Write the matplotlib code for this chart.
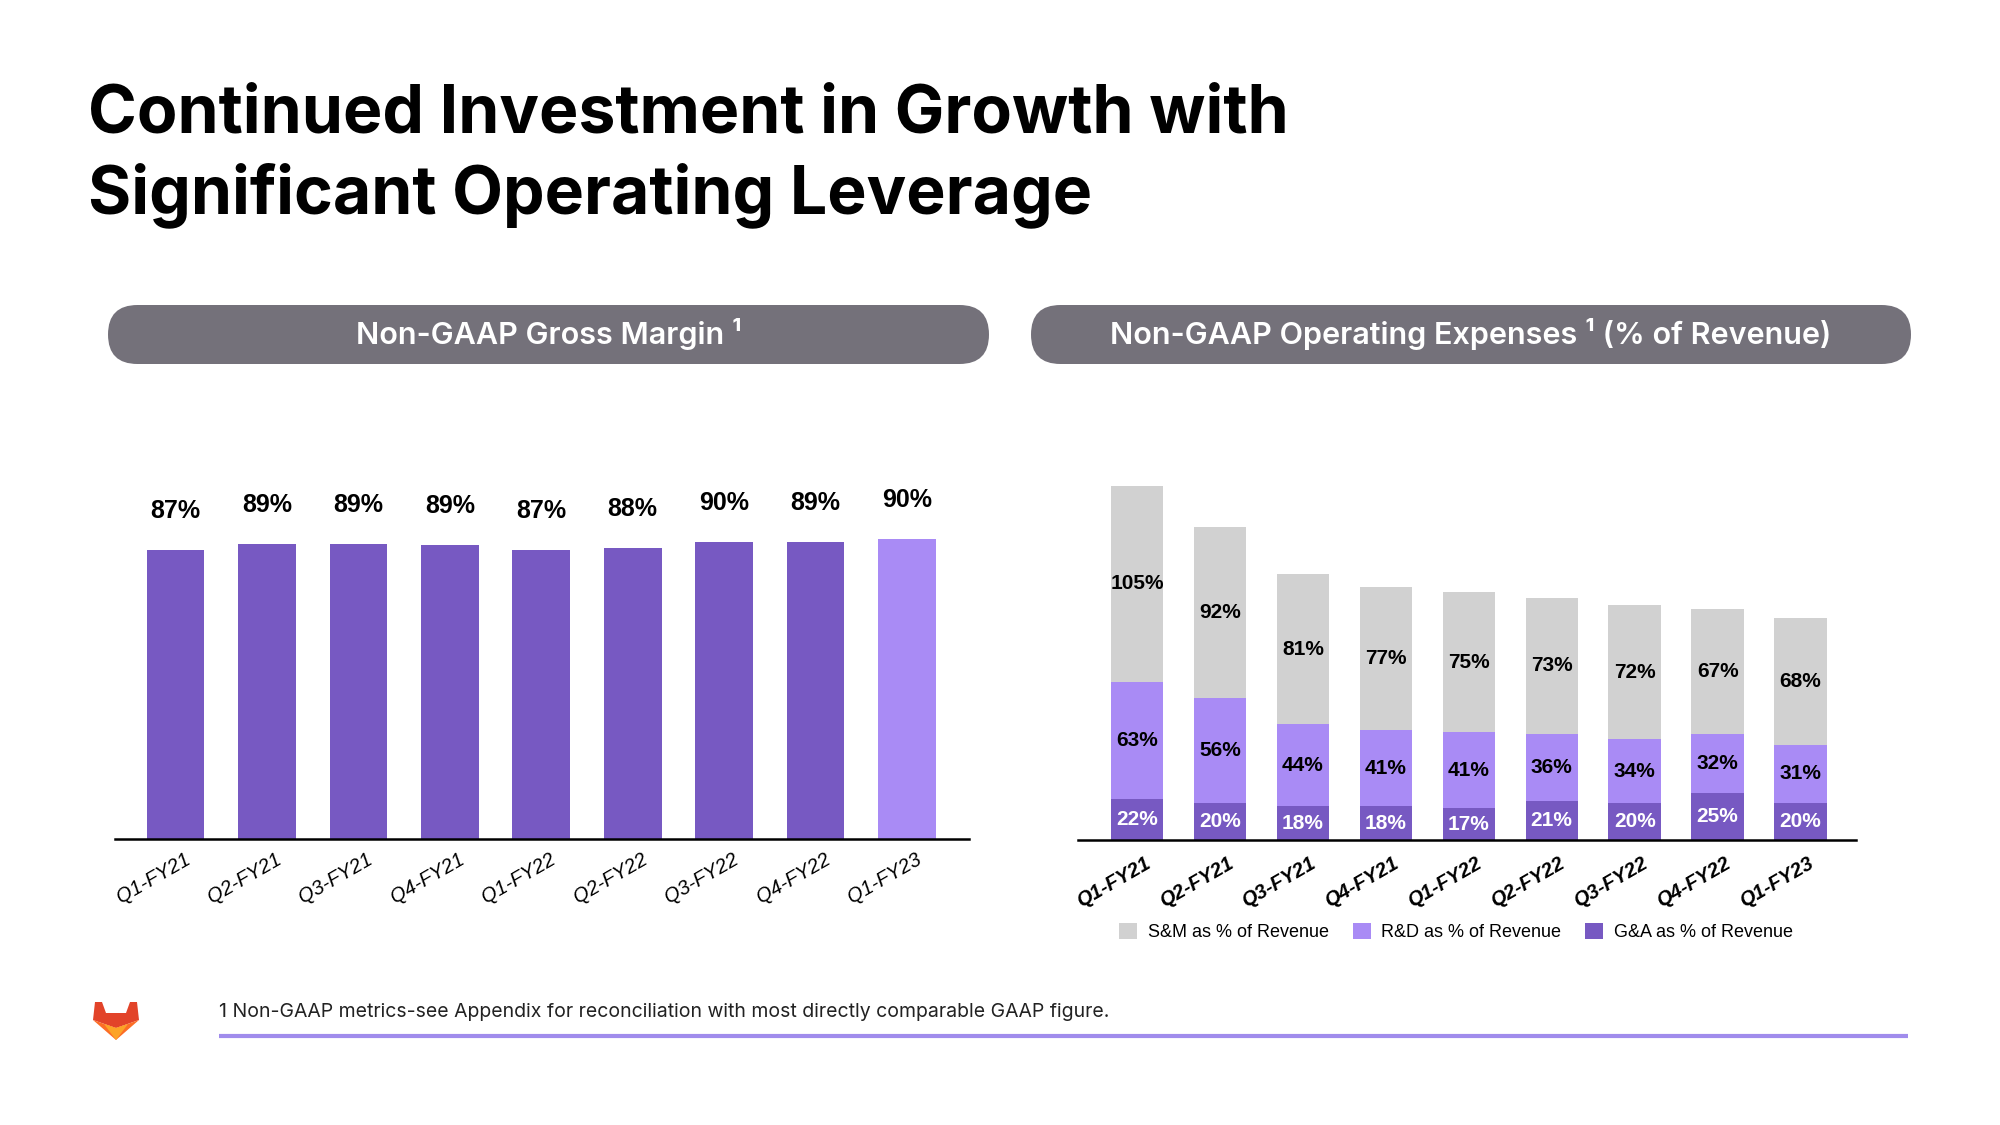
import numpy as np
import matplotlib
matplotlib.use("Agg")
import matplotlib.pyplot as plt
import matplotlib.transforms as mtransforms
from matplotlib.patches import FancyBboxPatch, Polygon

# data
quarters = ["Q1-FY21", "Q2-FY21", "Q3-FY21", "Q4-FY21", "Q1-FY22",
            "Q2-FY22", "Q3-FY22", "Q4-FY22", "Q1-FY23"]
gross_margin = [87.0, 88.9, 88.9, 88.6, 87.0, 87.8, 89.6, 89.4, 90.3]
sm_pct = [105, 92, 81, 77, 75, 73, 72, 67, 68]
rd_pct = [63, 56, 44, 41, 41, 36, 34, 32, 31]
ga_pct = [22, 20, 18, 18, 17, 21, 20, 25, 20]
series_names = ["S&M as % of Revenue", "R&D as % of Revenue", "G&A as % of Revenue"]

DARK = "#7759c2"
LIGHT = "#a98bf5"
GREY = "#d1d1d1"
PILL = "#74717a"
ARIAL = ["Liberation Sans", "DejaVu Sans"]
INTER = ["Inter", "DejaVu Sans"]

fig = plt.figure(figsize=(20, 11.25), dpi=100)

# background axes in pixel units for titles, pills and footer
bg = fig.add_axes([0, 0, 1, 1], zorder=0)
bg.set_xlim(0, 2000)
bg.set_ylim(1125, 0)
bg.axis("off")

bg.text(88, 115, "Continued Investment in Growth with", fontsize=47.6, fontweight="bold",
        family=INTER, va="center", ha="left")
bg.text(88, 195, "Significant Operating Leverage", fontsize=47.6, fontweight="bold",
        family=INTER, va="center", ha="left")

for x0, x1, label in [(108, 989, "Non-GAAP Gross Margin ¹"),
                      (1031, 1911, "Non-GAAP Operating Expenses ¹ (% of Revenue)")]:
    pill = FancyBboxPatch((x0, 305), x1 - x0, 59,
                          boxstyle="round,pad=0,rounding_size=29.5",
                          fc=PILL, ec="none")
    bg.add_patch(pill)
    bg.text((x0 + x1) / 2, 334, label, color="white", fontsize=22, fontweight="semibold",
            family=INTER, ha="center", va="center")

# footer
bg.text(219, 1012, "1 Non-GAAP metrics-see Appendix for reconciliation with most directly "
        "comparable GAAP figure.", fontsize=14, family=INTER, ha="left", va="center",
        color="#222222")
bg.plot([219, 1908], [1036, 1036], color="#a08cec", lw=3, solid_capstyle="butt")

# gitlab logo
bg.add_patch(Polygon([(95, 1002), (102, 1002), (106, 1013), (126, 1013), (130, 1002),
                      (137, 1002), (139, 1020), (116, 1028), (93, 1020)],
                     closed=True, fc="#e24329", ec="none"))
bg.add_patch(Polygon([(93, 1020), (116, 1028), (139, 1020), (116, 1040)],
                     closed=True, fc="#fc6d26", ec="none"))
bg.add_patch(Polygon([(104, 1024), (116, 1028), (128, 1024), (116, 1040)],
                     closed=True, fc="#fca326", ec="none"))

x = np.arange(len(quarters))

# left chart: gross margin
ax1 = fig.add_axes([115 / 2000, 1 - 839 / 1125, 854 / 2000, 332 / 1125], zorder=1)
colors = [DARK] * (len(quarters) - 1) + [LIGHT]
bars = ax1.bar(x, gross_margin, width=0.63, color=colors)
ax1.set_xlim(-0.662, 8.678)
ax1.set_ylim(0, 100)
for rect, v in zip(bars, gross_margin):
    ax1.annotate("{:.0f}%".format(v),
                 xy=(rect.get_x() + rect.get_width() / 2, rect.get_height()),
                 xytext=(0, 28), textcoords="offset points",
                 ha="center", va="center", fontsize=18, fontweight="bold", family=ARIAL)

# right chart: operating expenses
ax2 = fig.add_axes([1078 / 2000, 1 - 840 / 1125, 778 / 2000, 372.6 / 1125], zorder=1)
bottom_rd = np.array(ga_pct)
bottom_sm = bottom_rd + np.array(rd_pct)
b_ga = ax2.bar(x, ga_pct, width=0.63, color=DARK, label=series_names[2])
b_rd = ax2.bar(x, rd_pct, width=0.63, bottom=bottom_rd, color=LIGHT, label=series_names[1])
b_sm = ax2.bar(x, sm_pct, width=0.63, bottom=bottom_sm, color=GREY, label=series_names[0])
ax2.set_xlim(-0.711, 8.669)
ax2.set_ylim(0, 200)
for group, txt_color in [(b_ga, "white"), (b_rd, "black"), (b_sm, "black")]:
    for rect in group:
        ax2.text(rect.get_x() + rect.get_width() / 2, rect.get_y() + rect.get_height() / 2,
                 "{:.0f}%".format(rect.get_height()), ha="center", va="center",
                 fontsize=15, fontweight="bold", family=ARIAL, color=txt_color)

for ax, weight, pad, shift in [(ax1, "normal", 8, 6), (ax2, "bold", 10, 5)]:
    for s in ["top", "right", "left"]:
        ax.spines[s].set_visible(False)
    ax.spines["bottom"].set_linewidth(1.8)
    ax.spines["bottom"].set_zorder(5)
    ax.set_yticks([])
    ax.set_xticks(x)
    ax.set_xticklabels(quarters, rotation=30, ha="right", va="top", rotation_mode="anchor",
                       fontsize=14.5, fontstyle="italic", fontweight=weight, family=ARIAL)
    ax.tick_params(axis="x", length=0, pad=pad)
    offset = mtransforms.ScaledTranslation(shift / 72, 0, fig.dpi_scale_trans)
    for lbl in ax.get_xticklabels():
        lbl.set_transform(lbl.get_transform() + offset)
    ax.patch.set_alpha(0)

handles = [b_sm, b_rd, b_ga]
fig.legend(handles, series_names, loc="center", bbox_to_anchor=(1456 / 2000, 1 - 932 / 1125),
           ncol=3, frameon=False, handlelength=1.0, handleheight=1.0, handletextpad=0.6,
           columnspacing=1.3, prop={"family": ARIAL, "size": 13})

fig.savefig("out.png", dpi=100)
